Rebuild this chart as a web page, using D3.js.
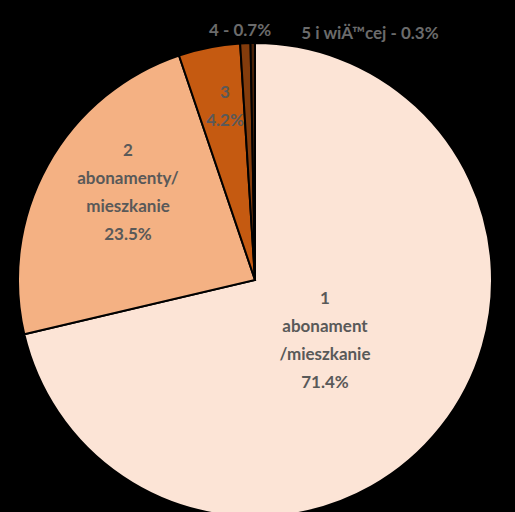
<!DOCTYPE html><html><head><script src="https://cdn.jsdelivr.net/npm/d3@7"></script>
<style>body{margin:0;background:#000}</style></head><body><svg id="c" width="515" height="512"></svg><script>
const categories=["1 abonament/mieszkanie","2 abonamenty/mieszkanie","3","4","5 i więcej"];
const values=[71.4,23.5,4.2,0.7,0.3];
const colors=["#fce4d6","#f4b183","#c55a11","#843c0c","#4a2208"];
const labelLines=[["1","abonament","/mieszkanie","71.4%"],["2","abonamenty/","mieszkanie","23.5%"],["3","4.2%"],["4 - 0.7%"],["5 i więcej - 0.3%"]];
const labelPos=[[325,298],[128,150],[225,92],[240,30],[370,33]];
const svg=d3.select("#c");
svg.append("rect").attr("width",515).attr("height",512).attr("fill","#000");
const cx=255,cy=280,r=237;
const pie=d3.pie().sort(null).value(d=>d)(values);
const arc=d3.arc().innerRadius(0).outerRadius(r);
const g=svg.append("g").attr("transform",`translate(${cx},${cy})`);
g.selectAll("path").data(pie).join("path").attr("d",arc).attr("fill",(d,i)=>colors[i]).attr("stroke","#000").attr("stroke-width",2);
labelLines.forEach((lines,i)=>{
  const t=svg.append("text").attr("text-anchor","middle").attr("font-family","Lato, sans-serif").attr("font-weight","bold").attr("font-size",17)
   .attr("fill",i>=3?"#6b6b6b":"#595959");
  lines.forEach((l,j)=>t.append("tspan").attr("x",labelPos[i][0]).attr("y",labelPos[i][1]+j*28+6).text(l));
});
</script></body></html>
